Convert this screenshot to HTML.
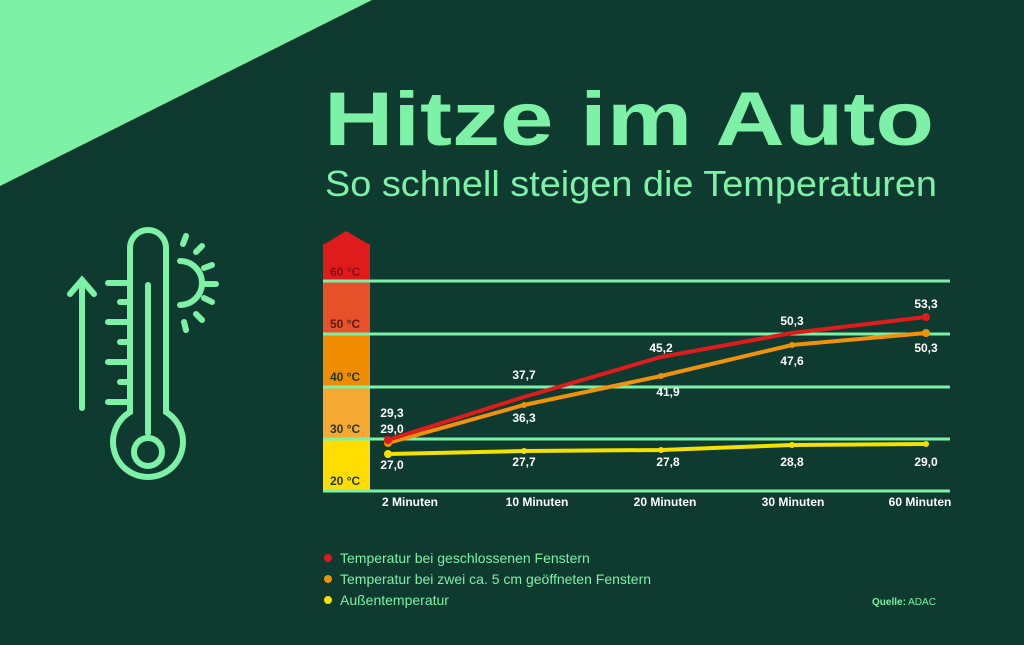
<!DOCTYPE html>
<html><head><meta charset="utf-8"><style>
body{margin:0;width:1024px;height:640px;overflow:hidden;background:#0f3a30;font-family:"Liberation Sans",sans-serif}
</style></head><body>
<svg width="1024" height="640" xmlns="http://www.w3.org/2000/svg" font-family="Liberation Sans, sans-serif">
<rect width="1024" height="640" fill="#0f3a30"/>
<polygon points="0,0 372,0 0,186" fill="#7df2a6"/>
<text x="324" y="145" font-size="76" font-weight="bold" fill="#7df2a6" textLength="610" lengthAdjust="spacingAndGlyphs">Hitze im Auto</text>
<text x="325" y="196" font-size="36" fill="#7df2a6" textLength="612" lengthAdjust="spacingAndGlyphs">So schnell steigen die Temperaturen</text>
<!-- thermometer icon -->
<g stroke="#7df2a6" stroke-width="6" fill="none" stroke-linecap="round">
<line x1="82" y1="408" x2="82" y2="282"/><polyline points="70,294 82,280 94,294"/>
<path d="M130,370 V248 A18,18 0 0 1 166,248 V412 A35,35 0 1 1 130,412 Z"/>
<line x1="148" y1="285" x2="148" y2="433"/>
<circle cx="148" cy="452" r="14"/>
<line x1="108" y1="283" x2="130" y2="283"/><line x1="120" y1="302" x2="130" y2="302"/>
<line x1="108" y1="322" x2="130" y2="322"/><line x1="120" y1="342" x2="130" y2="342"/>
<line x1="108" y1="362" x2="130" y2="362"/><line x1="120" y1="382" x2="130" y2="382"/>
<line x1="108" y1="402" x2="130" y2="402"/>
<path d="M180,261 A22,22 0 0 1 180,305"/>
<line x1="186" y1="236" x2="183" y2="244"/><line x1="202" y1="246" x2="196" y2="252"/>
<line x1="212" y1="265" x2="204" y2="268"/><line x1="216" y1="284" x2="206" y2="284"/>
<line x1="212" y1="302" x2="204" y2="298"/><line x1="202" y1="320" x2="196" y2="314"/>
<line x1="186" y1="330" x2="184" y2="322"/>
</g>
<!-- scale bar -->
<polygon points="323,245 346,231 370,245" fill="#e01b1b"/>
<rect x="323" y="244" width="47" height="37" fill="#e01b1b"/>
<rect x="323" y="281" width="47" height="53" fill="#e8522a"/>
<rect x="323" y="334" width="47" height="53" fill="#f08c00"/>
<rect x="323" y="387" width="47" height="52" fill="#f5a832"/>
<rect x="323" y="439" width="47" height="52" fill="#ffdd00"/>
<g font-size="12" font-weight="bold" fill="#1d3a26">
<text x="330" y="276" fill="#8a1010">60 °C</text><text x="330" y="328" fill="#5a2010">50 °C</text>
<text x="330" y="381">40 °C</text><text x="330" y="433">30 °C</text><text x="330" y="485">20 °C</text></g>
<g stroke="#7df2a6" stroke-width="3">
<line x1="323" y1="281" x2="950" y2="281"/><line x1="323" y1="334" x2="950" y2="334"/>
<line x1="323" y1="387" x2="950" y2="387"/><line x1="323" y1="439" x2="950" y2="439"/>
<line x1="323" y1="491" x2="950" y2="491"/></g>
<!-- series -->
<polyline points="388,454 524,451 661,450 792,445 926,444" fill="none" stroke="#f5e100" stroke-width="4"/>
<polyline points="388,443 524,405 661,376 792,345 926,333" fill="none" stroke="#f0920a" stroke-width="4"/>
<polyline points="388,440 524,397 661,357 792,333 926,317" fill="none" stroke="#e01b1b" stroke-width="4"/>
<g fill="#f5e100"><circle cx="388" cy="454" r="4"/><circle cx="524" cy="451" r="3"/><circle cx="661" cy="450" r="3"/><circle cx="792" cy="445" r="3"/><circle cx="926" cy="444" r="3"/></g>
<g fill="#f0920a"><circle cx="388" cy="443" r="4"/><circle cx="524" cy="405" r="3"/><circle cx="661" cy="376" r="3"/><circle cx="792" cy="345" r="3"/><circle cx="926" cy="333" r="4"/></g>
<g fill="#e01b1b"><circle cx="388" cy="440" r="4"/><circle cx="926" cy="317" r="4"/></g>
<g font-size="12" font-weight="bold" fill="#ffffff" text-anchor="middle">
<text x="392" y="417">29,3</text><text x="392" y="433">29,0</text><text x="392" y="469">27,0</text>
<text x="524" y="379">37,7</text><text x="524" y="422">36,3</text><text x="524" y="466">27,7</text>
<text x="661" y="352">45,2</text><text x="668" y="396">41,9</text><text x="668" y="466">27,8</text>
<text x="792" y="325">50,3</text><text x="792" y="365">47,6</text><text x="792" y="466">28,8</text>
<text x="926" y="308">53,3</text><text x="926" y="352">50,3</text><text x="926" y="466">29,0</text>
</g>
<g font-size="12" font-weight="bold" fill="#ffffff" text-anchor="middle">
<text x="410" y="506">2 Minuten</text><text x="537" y="506">10 Minuten</text><text x="665" y="506">20 Minuten</text><text x="793" y="506">30 Minuten</text><text x="920" y="506">60 Minuten</text></g>
<circle cx="328" cy="558" r="4" fill="#e01b1b"/><circle cx="328" cy="579" r="4" fill="#f0920a"/><circle cx="328" cy="600" r="4" fill="#f5e100"/>
<g font-size="14" fill="#7df2a6">
<text x="340" y="563">Temperatur bei geschlossenen Fenstern</text>
<text x="340" y="584">Temperatur bei zwei ca. 5 cm geöffneten Fenstern</text>
<text x="340" y="605">Außentemperatur</text></g>
<text x="872" y="605" font-size="10" fill="#7df2a6"><tspan font-weight="bold">Quelle:</tspan> ADAC</text>
</svg>
</body></html>
